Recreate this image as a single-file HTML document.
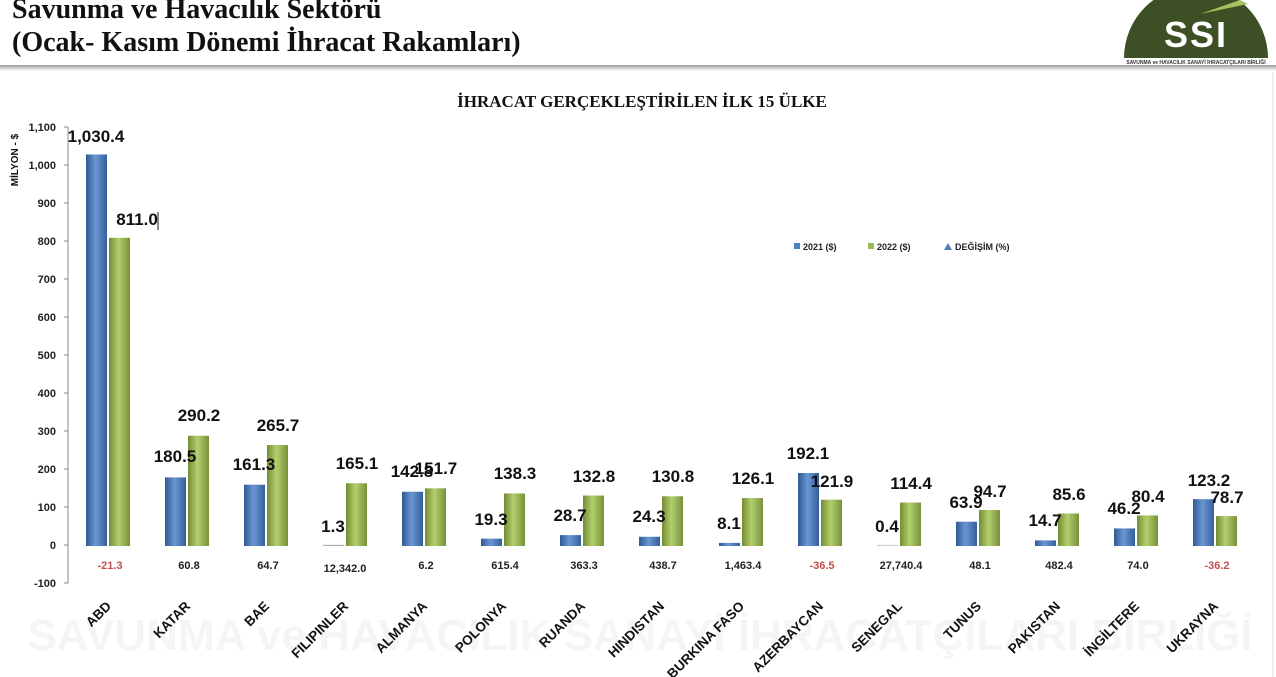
<!DOCTYPE html>
<html><head><meta charset="utf-8"><style>
html,body{margin:0;padding:0;background:#fff;width:1276px;height:677px;overflow:hidden}
svg{display:block}
.h{font-family:"Liberation Serif",serif;font-weight:bold;font-size:28px;fill:#111}
.t{font-family:"Liberation Sans",sans-serif;font-weight:bold}
.v{font-family:"Liberation Sans",sans-serif;font-weight:bold;font-size:17px;fill:#111;text-anchor:middle}
.c{font-family:"Liberation Sans",sans-serif;font-weight:bold;font-size:11px;fill:#222;text-anchor:middle}
.n{fill:#c0504d}
.k{font-family:"Liberation Sans",sans-serif;font-weight:bold;font-size:13.5px;fill:#111;text-anchor:end}
.y{font-family:"Liberation Sans",sans-serif;font-weight:bold;font-size:11px;fill:#222;text-anchor:end}
</style></head><body>
<svg width="1276" height="677" viewBox="0 0 1276 677" xmlns="http://www.w3.org/2000/svg">
<defs>
<linearGradient id="gb" x1="0" x2="1" y1="0" y2="0"><stop offset="0" stop-color="#2f5a94"/><stop offset="0.45" stop-color="#6a96d2"/><stop offset="1" stop-color="#345f9a"/></linearGradient>
<linearGradient id="gg" x1="0" x2="1" y1="0" y2="0"><stop offset="0" stop-color="#728c34"/><stop offset="0.45" stop-color="#b4cf6c"/><stop offset="1" stop-color="#76913a"/></linearGradient>
<linearGradient id="sh" x1="0" x2="0" y1="0" y2="1"><stop offset="0" stop-color="#999"/><stop offset="1" stop-color="#fff"/></linearGradient>
</defs>
<text class="h" x="12" y="18">Savunma ve Havacılık Sektörü</text>
<text class="h" x="12" y="51">(Ocak- Kasım Dönemi İhracat Rakamları)</text>
<rect x="0" y="65" width="1276" height="6" fill="url(#sh)"/>
<path d="M1124 58 A72 72 0 0 1 1268 58 Z" fill="#3d4f24"/>
<path d="M1200 14 L1240 0 L1248 4 Z" fill="#a8c060"/>
<text x="1196" y="47" text-anchor="middle" class="t" font-size="36" fill="#fff" letter-spacing="2">SSI</text>
<text x="1196" y="64" text-anchor="middle" class="t" font-size="5" fill="#333">SAVUNMA ve HAVACILIK SANAYİ İHRACATÇILARI BİRLİĞİ</text>
<line x1="1273" y1="72" x2="1273" y2="677" stroke="#ddd" stroke-width="1"/>
<text x="640" y="650" text-anchor="middle" class="t" font-size="44" fill="#f5f5f5">SAVUNMA ve HAVACILIK SANAYİ İHRACATÇILARI BİRLİĞİ</text>
<text x="642" y="107" text-anchor="middle" font-family="Liberation Serif,serif" font-weight="bold" font-size="17" fill="#111">İHRACAT GERÇEKLEŞTİRİLEN İLK 15 ÜLKE</text>
<text transform="translate(18,160) rotate(-90)" text-anchor="middle" class="t" font-size="10" fill="#111">MİLYON - $</text>
<line x1="68" y1="127" x2="68" y2="583" stroke="#888"/>
<g stroke="#888">
<line x1="64" y1="127" x2="68" y2="127"/><line x1="64" y1="165" x2="68" y2="165"/><line x1="64" y1="203" x2="68" y2="203"/><line x1="64" y1="241" x2="68" y2="241"/><line x1="64" y1="279" x2="68" y2="279"/><line x1="64" y1="317" x2="68" y2="317"/><line x1="64" y1="355" x2="68" y2="355"/><line x1="64" y1="393" x2="68" y2="393"/><line x1="64" y1="431" x2="68" y2="431"/><line x1="64" y1="469" x2="68" y2="469"/><line x1="64" y1="507" x2="68" y2="507"/><line x1="64" y1="545" x2="68" y2="545"/><line x1="64" y1="583" x2="68" y2="583"/>
</g>
<g class="y">
<text x="56" y="131">1,100</text><text x="56" y="169">1,000</text><text x="56" y="207">900</text><text x="56" y="245">800</text><text x="56" y="283">700</text><text x="56" y="321">600</text><text x="56" y="359">500</text><text x="56" y="397">400</text><text x="56" y="435">300</text><text x="56" y="473">200</text><text x="56" y="511">100</text><text x="56" y="549">0</text><text x="56" y="587">-100</text>
</g>
<rect x="794" y="243" width="6" height="6" fill="#4f81bd"/><text x="803" y="250" class="t" font-size="9" fill="#222">2021 ($)</text>
<rect x="868" y="243" width="6" height="6" fill="#9bbb59"/><text x="877" y="250" class="t" font-size="9" fill="#222">2022 ($)</text>
<path d="M944 250 L948 243 L952 250 Z" fill="#4f81bd"/><text x="955" y="250" class="t" font-size="9" fill="#222">DEĞİŞİM (%)</text>
<g transform="translate(0,546) scale(1,-0.38)">
<g fill="url(#gb)">
<rect x="86" y="0" width="21" height="1030.4"/><rect x="165" y="0" width="21" height="180.5"/><rect x="244" y="0" width="21" height="161.3"/><rect x="323" y="0" width="21" height="3" fill="#aaa"/><rect x="402" y="0" width="21" height="142.8"/><rect x="481" y="0" width="21" height="19.3"/><rect x="560" y="0" width="21" height="28.7"/><rect x="639" y="0" width="21" height="24.3"/><rect x="719" y="0" width="21" height="8.1"/><rect x="798" y="0" width="21" height="192.1"/><rect x="877" y="0" width="21" height="3" fill="#ccc"/><rect x="956" y="0" width="21" height="63.9"/><rect x="1035" y="0" width="21" height="14.7"/><rect x="1114" y="0" width="21" height="46.2"/><rect x="1193" y="0" width="21" height="123.2"/>
</g>
<g fill="url(#gg)">
<rect x="109" y="0" width="21" height="811"/><rect x="188" y="0" width="21" height="290.2"/><rect x="267" y="0" width="21" height="265.7"/><rect x="346" y="0" width="21" height="165.1"/><rect x="425" y="0" width="21" height="151.7"/><rect x="504" y="0" width="21" height="138.3"/><rect x="583" y="0" width="21" height="132.8"/><rect x="662" y="0" width="21" height="130.8"/><rect x="742" y="0" width="21" height="126.1"/><rect x="821" y="0" width="21" height="121.9"/><rect x="900" y="0" width="21" height="114.4"/><rect x="979" y="0" width="21" height="94.7"/><rect x="1058" y="0" width="21" height="85.6"/><rect x="1137" y="0" width="21" height="80.4"/><rect x="1216" y="0" width="21" height="78.7"/>
</g>
</g>
<g class="v">
<text x="96" y="142">1,030.4</text><text x="175" y="462">180.5</text><text x="254" y="470">161.3</text><text x="333" y="532">1.3</text><text x="412" y="477">142.8</text><text x="491" y="525">19.3</text><text x="570" y="521">28.7</text><text x="649" y="522">24.3</text><text x="729" y="529">8.1</text><text x="808" y="459">192.1</text><text x="887" y="532">0.4</text><text x="966" y="508">63.9</text><text x="1045" y="526">14.7</text><text x="1124" y="514">46.2</text><text x="1209" y="486">123.2</text>
<text x="137" y="225">811.0</text><text x="199" y="421">290.2</text><text x="278" y="431">265.7</text><text x="357" y="469">165.1</text><text x="436" y="474">151.7</text><text x="515" y="479">138.3</text><text x="594" y="482">132.8</text><text x="673" y="482">130.8</text><text x="753" y="484">126.1</text><text x="832" y="487">121.9</text><text x="911" y="489">114.4</text><text x="990" y="497">94.7</text><text x="1069" y="500">85.6</text><text x="1148" y="502">80.4</text><text x="1227" y="503">78.7</text>
</g>
<line x1="158" y1="212" x2="158" y2="230" stroke="#111"/>
<g class="c">
<text x="110" y="569" class="c n">-21.3</text><text x="189" y="569">60.8</text><text x="268" y="569">64.7</text><text x="345" y="572">12,342.0</text><text x="426" y="569">6.2</text><text x="505" y="569">615.4</text><text x="584" y="569">363.3</text><text x="663" y="569">438.7</text><text x="743" y="569">1,463.4</text><text x="822" y="569" class="c n">-36.5</text><text x="901" y="569">27,740.4</text><text x="980" y="569">48.1</text><text x="1059" y="569">482.4</text><text x="1138" y="569">74.0</text><text x="1217" y="569" class="c n">-36.2</text>
</g>
<g class="k">
<text transform="translate(112,607) rotate(-45)">ABD</text>
<text transform="translate(191,607) rotate(-45)">KATAR</text>
<text transform="translate(270,607) rotate(-45)">BAE</text>
<text transform="translate(349,607) rotate(-45)">FILIPINLER</text>
<text transform="translate(428,607) rotate(-45)">ALMANYA</text>
<text transform="translate(507,607) rotate(-45)">POLONYA</text>
<text transform="translate(586,607) rotate(-45)">RUANDA</text>
<text transform="translate(665,607) rotate(-45)">HINDISTAN</text>
<text transform="translate(745,607) rotate(-45)">BURKINA FASO</text>
<text transform="translate(824,607) rotate(-45)">AZERBAYCAN</text>
<text transform="translate(903,607) rotate(-45)">SENEGAL</text>
<text transform="translate(982,607) rotate(-45)">TUNUS</text>
<text transform="translate(1061,607) rotate(-45)">PAKISTAN</text>
<text transform="translate(1140,607) rotate(-45)">İNGİLTERE</text>
<text transform="translate(1219,607) rotate(-45)">UKRAYNA</text>
</g>
</svg>
</body></html>
